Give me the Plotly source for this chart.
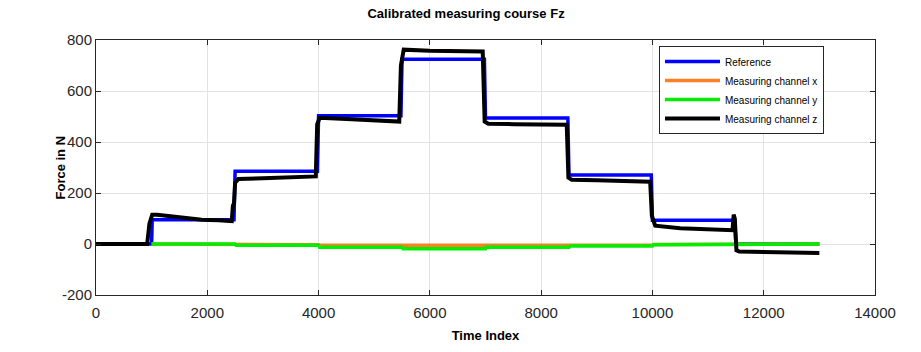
import plotly.graph_objects as go

# Reference (blue) step profile
ref_t = [0, 1000, 1010, 2480, 2500, 3980, 4000, 5480, 5500, 6980, 7000, 8480, 8500, 9980, 10000, 11480, 11500, 13000]
ref_v = [0, 0, 95, 95, 285, 285, 503, 503, 725, 725, 494, 494, 271, 271, 93, 93, 0, 0]

# Measuring channel x (orange)
chx_t = [1000, 2500, 2520, 4000, 4020, 5500, 5520, 7000, 7020, 8500, 8520, 10000, 10020, 11500, 11520, 13000]
chx_v = [0, 0, -3, -3, -5, -5, -7, -7, -5, -5, -4, -4, -2, -2, 0, 0]

# Measuring channel y (green)
chy_t = [1000, 2500, 2520, 4000, 4020, 5500, 5520, 7000, 7020, 8500, 8520, 10000, 10020, 11500, 11520, 13000]
chy_v = [0, 0, -5, -5, -13, -13, -19, -19, -13, -13, -8, -8, -3, -3, 0, 0]

# Measuring channel z (black)
chz_t = [0, 920, 960, 1010, 1100, 1300, 1600, 1900, 2200, 2440, 2460, 2480, 2500, 2560, 3000, 3500, 3950,
         3975, 4020, 4500, 5000, 5450, 5480, 5530, 6000, 6500, 6950, 6985, 7050, 7500, 8000, 8460,
         8490, 8550, 9000, 9500, 9960, 9990, 10050, 10500, 11000, 11440, 11460, 11480, 11510, 11560,
         12000, 12500, 13000]
chz_v = [0, 0, 80, 115, 115, 110, 100, 95, 93, 90, 150, 160, 240, 255, 258, 262, 265,
         470, 495, 490, 485, 480, 700, 762, 758, 755, 755, 480, 472, 470, 469, 468,
         260, 252, 250, 247, 244, 110, 72, 62, 57, 54, 115, 100, -25, -29,
         -31, -33, -35]

# Tick labels
x_ticks = [0, 2000, 4000, 6000, 8000, 10000, 12000, 14000]
x_labels = ["0", "2000", "4000", "6000", "8000", "10000", "12000", "14000"]
y_ticks = [-200, 0, 200, 400, 600, 800]
y_labels = ["-200", "0", "200", "400", "600", "800"]

FONT = "Liberation Sans, Arial, sans-serif"

fig = go.Figure()
fig.add_trace(go.Scatter(x=ref_t, y=ref_v, mode="lines", name="Reference",
                         line=dict(color="#0000ff", width=3.5)))
fig.add_trace(go.Scatter(x=chx_t, y=chx_v, mode="lines", name="Measuring channel x",
                         line=dict(color="#ff7f27", width=3.5)))
fig.add_trace(go.Scatter(x=chy_t, y=chy_v, mode="lines", name="Measuring channel y",
                         line=dict(color="#00ee00", width=3.5)))
fig.add_trace(go.Scatter(x=chz_t, y=chz_v, mode="lines", name="Measuring channel z",
                         line=dict(color="#000000", width=4)))

axis_common = dict(
    showgrid=True, gridcolor="#e3e3e3", gridwidth=1,
    showline=True, linecolor="#262626", linewidth=1, mirror="ticks",
    ticks="inside", ticklen=5, tickcolor="#262626",
    zeroline=False,
    tickfont=dict(family=FONT, size=15, color="#262626"),
)

fig.update_layout(
    width=921, height=352,
    margin=dict(l=96, r=46, t=40, b=57, autoexpand=False),
    paper_bgcolor="white", plot_bgcolor="white",
    title=dict(text="<b>Calibrated measuring course Fz</b>", x=0.506, xref="container",
               y=0.963, yref="container", xanchor="center", yanchor="middle",
               font=dict(family=FONT, size=13, color="#000000")),
    xaxis=dict(range=[0, 14000], tickvals=x_ticks, ticktext=x_labels,
               ticklabelstandoff=4,
               title=dict(text="<b>Time Index</b>", standoff=10,
                          font=dict(family=FONT, size=13, color="#000000")),
               **axis_common),
    yaxis=dict(range=[-200, 800], tickvals=y_ticks, ticktext=y_labels,
               **axis_common),
    annotations=[dict(text="<b>Force in N</b>", textangle=-90, xref="paper", yref="paper",
                      x=0, y=0.5, xanchor="center", yanchor="middle", xshift=-36,
                      showarrow=False, font=dict(family=FONT, size=13, color="#000000"))],
    legend=dict(x=0.7227, y=0.976, xanchor="left", yanchor="top",
                bgcolor="white", bordercolor="#262626", borderwidth=1,
                font=dict(family=FONT, size=10, color="#000000"),
                tracegroupgap=0, itemwidth=55),
    showlegend=True,
)

fig.write_html("out.html")
